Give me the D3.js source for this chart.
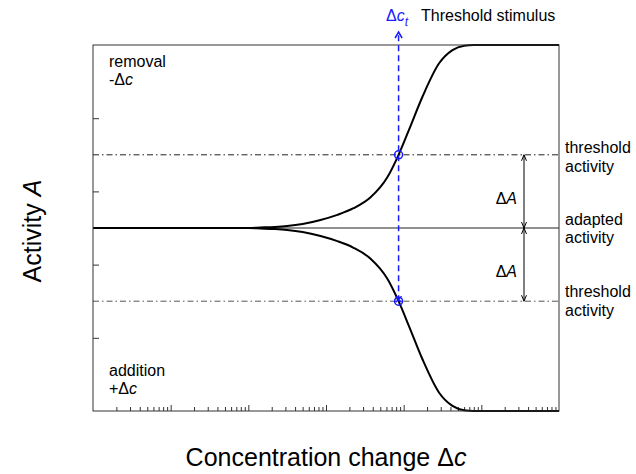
<!DOCTYPE html>
<html>
<head>
<meta charset="utf-8">
<script src="https://cdn.jsdelivr.net/npm/d3@7"></script>
<style>
  html, body { margin: 0; padding: 0; background: #fff; }
  svg { display: block; font-family: "Liberation Sans", Arial, Helvetica, sans-serif; }
</style>
</head>
<body>
<script>
// Concentration change (log axis) and the response magnitude of the activity
const concentration = [1, 10, 100, 143, 220, 316, 500, 850, 1400, 2260, 3750, 6220, 8600,
                       11700, 17400, 28600, 42500, 60000, 80000, 1e6];
const responseMagnitude = [0, 0, 0.001, 0.007, 0.015, 0.027, 0.055, 0.11, 0.18, 0.27, 0.42, 0.70, 1.0,
                           1.34, 1.79, 2.25, 2.43, 2.49, 2.5, 2.5];

// Removal of stimulant raises activity, addition lowers it
const removalActivity = responseMagnitude.slice();
const additionActivity = responseMagnitude.map(v => -v);

const thresholdStimulus = 8600;
const thresholdActivity = 1;
const adaptedActivity = 0;

const xDomain = [1, 1e6];
const yDomain = [-2.5, 2.5];
const decadeTicks = [10, 100, 1e3, 1e4, 1e5];
const yTicks = [-1.5, -0.5, 0.5, 1.5];

const W = 636, H = 474;
const plotLeft = 93, plotRight = 559, plotTop = 45, plotBottom = 411;

const svg = d3.select("body").append("svg").attr("width", W).attr("height", H);

const x = d3.scaleLog().domain(xDomain).range([plotLeft, plotRight]);
const y = d3.scaleLinear().domain(yDomain).range([plotBottom, plotTop]);

// Minor ticks: 2..9 within each decade
const minorTicks = x.ticks().filter(t => {
  const m = t / Math.pow(10, Math.floor(Math.log10(t) + 1e-9));
  return Math.abs(m - 1) > 1e-6;
});

const axisColor = "#333";

// x axis ticks pointing inward
const gxMinor = svg.append("g").attr("transform", `translate(0,${plotBottom})`)
  .call(d3.axisBottom(x).tickValues(minorTicks).tickSize(-4).tickFormat(""));
const gxMajor = svg.append("g").attr("transform", `translate(0,${plotBottom})`)
  .call(d3.axisBottom(x).tickValues(decadeTicks).tickSize(-6).tickFormat(""));
const gy = svg.append("g").attr("transform", `translate(${plotLeft},0)`)
  .call(d3.axisLeft(y).tickValues(yTicks).tickSize(-6).tickFormat(""));
[gxMinor, gxMajor, gy].forEach(g => {
  g.select(".domain").remove();
  g.selectAll(".tick line").attr("stroke", axisColor).attr("stroke-width", 1);
});

// Reference lines: adapted level and thresholds
svg.append("line")
  .attr("x1", plotLeft).attr("x2", plotRight)
  .attr("y1", y(adaptedActivity)).attr("y2", y(adaptedActivity))
  .attr("stroke", "#222").attr("stroke-width", 1.2);

[thresholdActivity, -thresholdActivity].forEach((v, i) => {
  svg.append("line")
    .attr("x1", plotLeft).attr("x2", plotRight)
    .attr("y1", y(v)).attr("y2", y(v))
    .attr("stroke", i === 0 ? "#222" : "#555").attr("stroke-width", 1)
    .attr("stroke-dasharray", "6,3,1.5,3");
});

// Response curves
const line = d3.line()
  .x((d, i) => x(concentration[i]))
  .y(d => y(d))
  .curve(d3.curveMonotoneX);

[removalActivity, additionActivity].forEach(series => {
  svg.append("path")
    .attr("d", line(series))
    .attr("fill", "none")
    .attr("stroke", "#000")
    .attr("stroke-width", 2);
});

// Frame
svg.append("rect")
  .attr("x", plotLeft).attr("y", plotTop)
  .attr("width", plotRight - plotLeft).attr("height", plotBottom - plotTop)
  .attr("fill", "none").attr("stroke", axisColor).attr("stroke-width", 1);

// Threshold stimulus marker (blue dashed arrow)
const blue = "#1a1aff";
const xt = x(thresholdStimulus);
const arrowTip = plotTop - 13;
svg.append("line")
  .attr("x1", xt).attr("x2", xt)
  .attr("y1", y(-thresholdActivity)).attr("y2", arrowTip + 2)
  .attr("stroke", blue).attr("stroke-width", 1.5)
  .attr("stroke-dasharray", "6,4");
svg.append("path")
  .attr("d", `M${xt - 3.5},${arrowTip + 6} L${xt},${arrowTip} L${xt + 3.5},${arrowTip + 6}`)
  .attr("fill", "none").attr("stroke", blue).attr("stroke-width", 1.5);

[thresholdActivity, -thresholdActivity].forEach(v => {
  svg.append("circle")
    .attr("cx", xt).attr("cy", y(v)).attr("r", 4)
    .attr("fill", "none").attr("stroke", blue).attr("stroke-width", 1.5);
});
// cross on the lower crossing
const crossY = y(-thresholdActivity) - 2;
svg.append("path")
  .attr("d", `M${xt - 3},${crossY - 3} L${xt + 3},${crossY + 3} M${xt - 3},${crossY + 3} L${xt + 3},${crossY - 3}`)
  .attr("stroke", blue).attr("stroke-width", 1.3);

// ΔA double arrows
const ax = 524;
function dblArrow(v1, v2) {
  const y1 = y(v1), y2 = y(v2);
  const g = svg.append("g").attr("stroke", "#000").attr("stroke-width", 1).attr("fill", "none");
  g.append("line").attr("x1", ax).attr("x2", ax).attr("y1", y1).attr("y2", y2);
  const d1 = y2 > y1 ? 1 : -1;
  g.append("path").attr("d", `M${ax - 2.5},${y1 + d1 * 6} L${ax},${y1} L${ax + 2.5},${y1 + d1 * 6}`);
  g.append("path").attr("d", `M${ax - 2.5},${y2 - d1 * 6} L${ax},${y2} L${ax + 2.5},${y2 - d1 * 6}`);
}
dblArrow(thresholdActivity, adaptedActivity);
dblArrow(adaptedActivity, -thresholdActivity);

// Text helper
function label(xp, yp, parts, opts = {}) {
  const size = opts.size || 16;
  const t = svg.append("text")
    .attr("x", xp).attr("y", yp)
    .attr("font-size", size)
    .attr("fill", opts.color || "#000")
    .attr("text-anchor", opts.anchor || "start");
  parts.forEach(p => {
    const ts = t.append("tspan").text(p.t);
    if (p.i) ts.attr("font-style", "italic");
    if (p.sub) ts.attr("dy", size * 0.3).attr("font-size", size * 0.75);
  });
  return t;
}

label(386, 21, [{t: "Δ"}, {t: "c", i: true}, {t: "t", i: true, sub: true}], {color: blue});
label(421, 21, [{t: "Threshold stimulus"}]);

label(109, 67, [{t: "removal"}]);
label(109, 85, [{t: "-Δ"}, {t: "c", i: true}]);
label(109, 376, [{t: "addition"}]);
label(109, 394, [{t: "+Δ"}, {t: "c", i: true}]);

label(517, 204, [{t: "Δ"}, {t: "A", i: true}], {anchor: "end"});
label(517, 277, [{t: "Δ"}, {t: "A", i: true}], {anchor: "end"});

label(565, 153, [{t: "threshold"}]);
label(565, 172, [{t: "activity"}]);
label(565, 225, [{t: "adapted"}]);
label(565, 243, [{t: "activity"}]);
label(565, 297, [{t: "threshold"}]);
label(565, 316, [{t: "activity"}]);

// Axis titles
label((plotLeft + plotRight) / 2, 466, [{t: "Concentration change Δ"}, {t: "c", i: true}], {size: 25, anchor: "middle"});
label(0, 0, [{t: "Activity "}, {t: "A", i: true}], {size: 25, anchor: "middle"})
  .attr("transform", `translate(41,231) rotate(-90)`);
</script>
</body>
</html>
